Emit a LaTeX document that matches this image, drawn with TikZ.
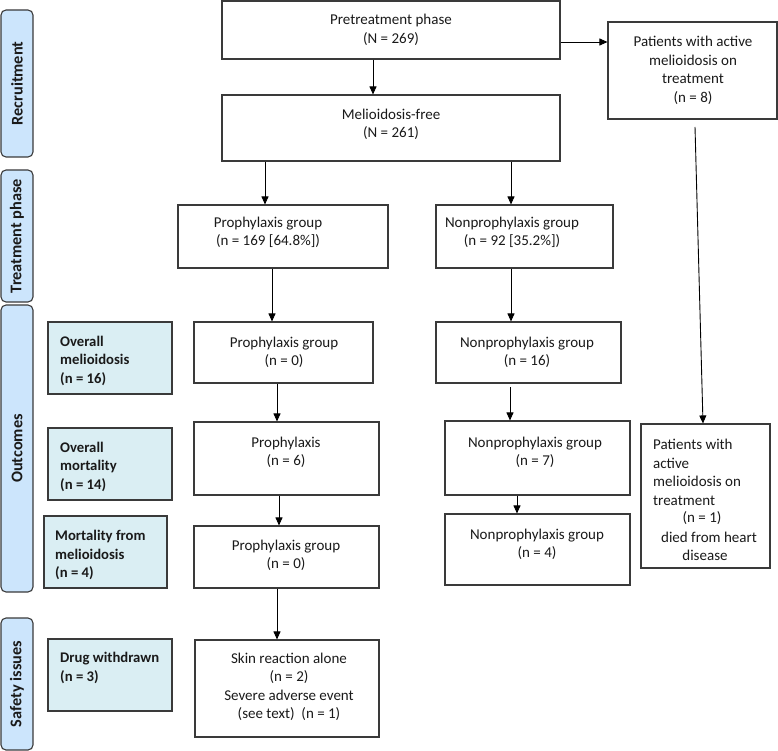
\documentclass[tikz,border=0pt]{standalone}
\usepackage{fontspec}
\setmainfont{Carlito}
\usetikzlibrary{arrows.meta}
\definecolor{sidefill}{HTML}{CCE5FC}
\definecolor{labfill}{HTML}{DAEEF3}
\definecolor{edgecol}{HTML}{3A3A3A}
\definecolor{txtcol}{HTML}{1A1A1A}
\begin{document}
\begin{tikzpicture}[x=1pt,y=-1pt,
  box/.style={draw=edgecol, line width=1.1pt, inner sep=0pt, fill=white},
  labbox/.style={draw=edgecol, line width=1.1pt, inner sep=0pt, fill=labfill},
  sidebox/.style={draw=edgecol, line width=1.1pt, inner sep=0pt, fill=sidefill, rounded corners=5pt},
  txt/.style={inner sep=0pt, align=center, text=txtcol, font=\fontsize{15}{18.5}\selectfont},
  ltxt/.style={inner sep=0pt, align=left, anchor=west, text=txtcol, font=\fontsize{15}{18.5}\selectfont},
  labtxt/.style={inner sep=0pt, align=left, anchor=west, text=txtcol, font=\fontsize{14.7}{18.5}\selectfont\bfseries},
  sidetxt/.style={inner sep=0pt, rotate=90, text=txtcol, font=\fontsize{16.3}{18}\selectfont\bfseries},
  arr/.style={draw=black, line width=0.9pt, -{Triangle[length=8pt,width=7pt]}},
  ln/.style={draw=black, line width=0.9pt}]
\useasboundingbox (0,0) rectangle (778,751);

% sidebars
\node[sidebox, minimum width=32pt, minimum height=147pt] (s1) at (17,83.5) {};
\node[sidebox, minimum width=32pt, minimum height=132pt] (s2) at (17,236) {};
\node[sidebox, minimum width=32pt, minimum height=287pt] (s3) at (17,448.5) {};
\node[sidebox, minimum width=32pt, minimum height=132pt] (s4) at (17,684) {};
\node[sidetxt] (s1t) at (s1.center) {Recruitment};
\node[sidetxt] (s2t) at (s2.center) {Treatment phase};
\node[sidetxt] (s3t) at (s3.center) {Outcomes};
\node[sidetxt] (s4t) at (s4.center) {Safety issues};

% label boxes
\node[labbox, minimum width=124pt, minimum height=72pt] (l1) at (110,358) {};
\node[labbox, minimum width=124pt, minimum height=72pt] (l2) at (110,464) {};
\node[labbox, minimum width=123pt, minimum height=72pt] (l3) at (105.5,552) {};
\node[labbox, minimum width=124pt, minimum height=72pt] (l4) at (110,675) {};
\node[labtxt] (l1t) at (60,360.5) {Overall\\melioidosis\\(n = 16)};
\node[labtxt] (l2t) at (60,466.5) {Overall\\mortality\\(n = 14)};
\node[labtxt] (l3t) at (55,555) {Mortality from\\melioidosis\\(n = 4)};
\node[labtxt] (l4t) at (60,668) {Drug withdrawn\\(n = 3)};

% main boxes
\node[box, minimum width=338pt, minimum height=58pt] (pre) at (391,30) {};
\node[box, minimum width=338pt, minimum height=66pt] (free) at (391,128) {};
\node[box, minimum width=169pt, minimum height=97pt] (act) at (692.5,70.5) {};
\node[box, minimum width=210pt, minimum height=63pt] (proph) at (283,236.5) {};
\node[box, minimum width=177pt, minimum height=63pt] (nonp) at (524.5,236.5) {};
\node[box, minimum width=179pt, minimum height=61pt] (o1p) at (283.5,352.5) {};
\node[box, minimum width=185pt, minimum height=61pt] (o1n) at (528.5,352.5) {};
\node[box, minimum width=185pt, minimum height=73pt] (o2p) at (286.5,458.5) {};
\node[box, minimum width=185pt, minimum height=74pt] (o2n) at (537.5,458) {};
\node[box, minimum width=185pt, minimum height=62pt] (o3p) at (286.5,557) {};
\node[box, minimum width=185pt, minimum height=71pt] (o3n) at (537.5,549.5) {};
\node[box, minimum width=129pt, minimum height=144pt] (died) at (705.5,496) {};
\node[box, minimum width=184pt, minimum height=97pt] (skin) at (287,688.5) {};

% texts
\node[txt] (pret) at (391,30) {Pretreatment phase\\(N = 269)};
\node[txt] (freet) at (391,124.5) {Melioidosis-free\\(N = 261)};
\node[txt] (actt) at (693,70.5) {Patients with active\\melioidosis on\\treatment\\(n = 8)};
\node[txt] (propht) at (268,232.5) {Prophylaxis group\\(n = 169 [64.8\%])};
\node[txt] (nonpt) at (512,232.5) {Nonprophylaxis group\\(n = 92 [35.2\%])};
\node[txt] (o1pt) at (284,352.5) {Prophylaxis group\\(n = 0)};
\node[txt] (o1nt) at (527,352.5) {Nonprophylaxis group\\(n = 16)};
\node[txt] (o2pt) at (286,452.5) {Prophylaxis\\(n = 6)};
\node[txt] (o2nt) at (535,452.5) {Nonprophylaxis group\\(n = 7)};
\node[txt] (o3pt) at (286,555.5) {Prophylaxis group\\(n = 0)};
\node[txt] (o3nt) at (537,544.5) {Nonprophylaxis group\\(n = 4)};
\node[ltxt] (diedt) at (653,472.5) {Patients with\\active\\melioidosis on\\treatment};
\node[txt] (diedn) at (702,518) {(n = 1)};
\node[txt] (diedh) at (709,537) {died from heart};
\node[txt] (diedd) at (705,555) {disease};
\node[txt] (skint) at (289,687) {Skin reaction alone\\(n = 2)\\Severe adverse event\\(see text)~ (n = 1)};

% helper coordinates
\coordinate (x373) at (373,0);
\coordinate (x265) at (265,0);
\coordinate (x511) at (511,0);
\coordinate (x272) at (272,0);
\coordinate (x277) at (277,0);
\coordinate (x279) at (279,0);
\coordinate (x517) at (517,0);
\coordinate (x703) at (703,0);
\coordinate (y42) at (0,42);
\coordinate (o1nb) at (510,387);
\coordinate (acts) at (695,127);

% connectors
\draw[arr] (pre.south -| x373) -- (free.north -| x373);
\draw[arr] (pre.east |- y42) -- (act.west |- y42);
\draw[arr] (free.south -| x265) -- (proph.north -| x265);
\draw[arr] (free.south -| x511) -- (nonp.north -| x511);
\draw[arr] (proph.south -| x272) -- (o1p.north -| x272);
\draw[arr] (nonp.south -| x511) -- (o1n.north -| x511);
\draw[arr] (o1p.south -| x277) -- (o2p.north -| x277);
\draw[arr] (o1nb) -- (o2n.north -| o1nb);
\draw[arr] (o2p.south -| x279) -- (o3p.north -| x279);
\draw[arr] (o2n.south -| x517) -- (o3n.north -| x517);
\draw[arr] (o3p.south -| x277) -- (skin.north -| x277);
\draw[arr] (acts) -- (died.north -| x703);
\end{tikzpicture}
\end{document}
